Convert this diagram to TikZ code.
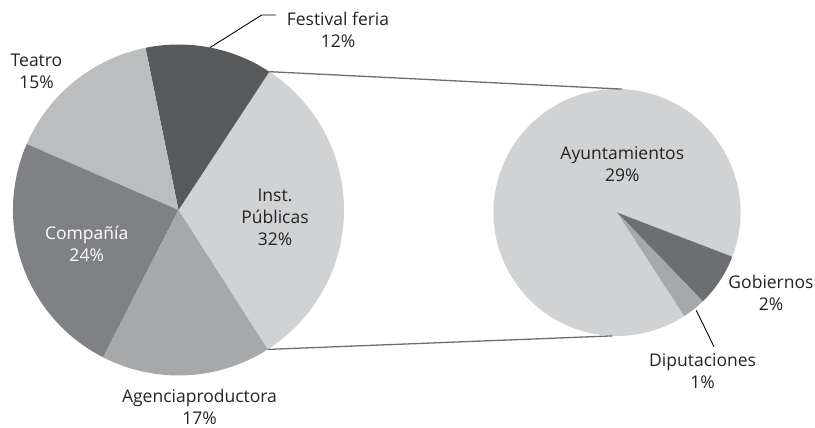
\documentclass[tikz,border=0pt]{standalone}
\usepackage{fontspec}
\setmainfont{Open Sans}
\definecolor{txt}{HTML}{232323}
\definecolor{cInst}{HTML}{D1D2D4}
\definecolor{cFest}{HTML}{58595B}
\definecolor{cTeat}{HTML}{BCBDBF}
\definecolor{cComp}{HTML}{808184}
\definecolor{cAgen}{HTML}{A7A8AA}
\definecolor{cGob}{HTML}{6D6E71}
\definecolor{cLink}{HTML}{6D6E71}
\begin{document}
\begin{tikzpicture}[x=1pt,y=1pt,
  lbl/.style={text=txt,align=center,inner sep=0pt,font=\fontsize{17.5}{22}\selectfont},
  link/.style={draw=cLink,line width=1.3pt},
  leader/.style={draw=black,line width=0.9pt}]
\useasboundingbox (0,0) rectangle (815,428);
% left pie
\coordinate (L) at (178.5,218);
\def\R{165.5}
\fill[cInst] (L) -- ++(-57.4:\R) arc[start angle=-57.4,end angle=56.7,radius=\R] -- cycle;
\fill[cFest] (L) -- ++(56.7:\R) arc[start angle=56.7,end angle=101.5,radius=\R] -- cycle;
\fill[cTeat] (L) -- ++(101.5:\R) arc[start angle=101.5,end angle=156.5,radius=\R] -- cycle;
\fill[cComp] (L) -- ++(156.5:\R) arc[start angle=156.5,end angle=242.9,radius=\R] -- cycle;
\fill[cAgen] (L) -- ++(242.9:\R) arc[start angle=242.9,end angle=302.6,radius=\R] -- cycle;
% right pie
\coordinate (P) at (617,215.5);
\def\r{123.5}
\fill[cInst] (P) -- ++(-21:\r) arc[start angle=-21,end angle=303,radius=\r] -- cycle;
\fill[cGob] (P) -- ++(-46:\r) arc[start angle=-46,end angle=-21,radius=\r] -- cycle;
\fill[cAgen] (P) -- ++(-57:\r) arc[start angle=-57,end angle=-46,radius=\r] -- cycle;
% corner coordinates
\path (L) ++(56.7:\R) coordinate (LTop);
\path (L) ++(-57.4:\R) coordinate (LBot);
\path (P) ++(87.8:\r) coordinate (RTop);
\path (P) ++(267.8:\r) coordinate (RBot);
\draw[link] (LTop) -- (RTop);
\draw[link] (LBot) -- (RBot);
% leader lines
\path (L) ++(79:\R) coordinate (fA);
\coordinate (fB) at (261.7,413);
\coordinate (fC) at (276,413);
\draw[leader] (fA) -- (fB) -- (fC);
\path (P) ++(-51:126) coordinate (dA);
\coordinate (dB) at (714,81.3);
\draw[leader] (dA) -- (dB);
% labels
\node[lbl] (nFest) at (338,398) {Festival feria\\12\%};
\node[lbl] (nTeat) at (36.5,357) {Teatro\\15\%};
\node[lbl] (nInst) at (275,211) {Inst.\\Públicas\\32\%};
\node[lbl,text=white] (nComp) at (86.7,184) {Compañía\\24\%};
\node[lbl] (nAgen) at (199.5,21) {Agenciaproductora\\17\%};
\node[lbl] (nAyun) at (622.3,264) {Ayuntamientos\\29\%};
\node[lbl] (nGob) at (771,135) {Gobiernos\\2\%};
\node[lbl] (nDip) at (702.6,56.5) {Diputaciones\\1\%};
\end{tikzpicture}
\end{document}
